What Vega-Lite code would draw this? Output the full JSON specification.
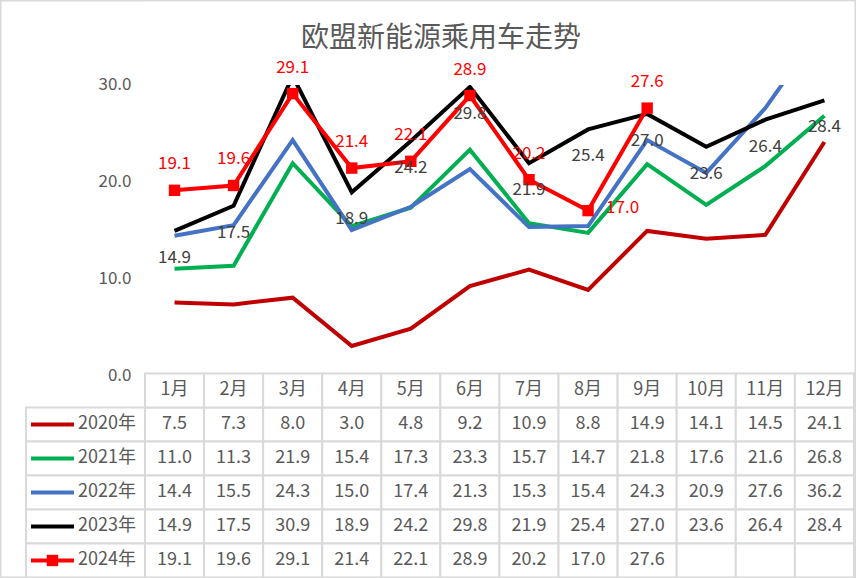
{
  "$schema": "https://vega.github.io/schema/vega-lite/v6.json",
  "width": 856,
  "height": 578,
  "autosize": "none",
  "padding": 0,
  "background": "white",
  "config": {
    "view": {"stroke": "#D9D9D9", "strokeWidth": 3},
    "font": "Noto Sans CJK SC",
    "text": {"font": "Noto Sans CJK SC"}
  },
  "title": {
    "text": "欧盟新能源乘用车走势",
    "anchor": "middle",
    "frame": "group",
    "offset": -53,
    "dx": 13,
    "fontSize": 28,
    "font": "Noto Sans CJK SC",
    "fontWeight": "normal",
    "color": "#595959"
  },
  "datasets": {
    "d": [
      {"y": "2020年", "r": 1, "m": 1, "v": 7.5}, {"y": "2020年", "r": 1, "m": 2, "v": 7.3}, {"y": "2020年", "r": 1, "m": 3, "v": 8.0}, {"y": "2020年", "r": 1, "m": 4, "v": 3.0}, {"y": "2020年", "r": 1, "m": 5, "v": 4.8}, {"y": "2020年", "r": 1, "m": 6, "v": 9.2}, {"y": "2020年", "r": 1, "m": 7, "v": 10.9}, {"y": "2020年", "r": 1, "m": 8, "v": 8.8}, {"y": "2020年", "r": 1, "m": 9, "v": 14.9}, {"y": "2020年", "r": 1, "m": 10, "v": 14.1}, {"y": "2020年", "r": 1, "m": 11, "v": 14.5}, {"y": "2020年", "r": 1, "m": 12, "v": 24.1},
      {"y": "2021年", "r": 2, "m": 1, "v": 11.0}, {"y": "2021年", "r": 2, "m": 2, "v": 11.3}, {"y": "2021年", "r": 2, "m": 3, "v": 21.9}, {"y": "2021年", "r": 2, "m": 4, "v": 15.4}, {"y": "2021年", "r": 2, "m": 5, "v": 17.3}, {"y": "2021年", "r": 2, "m": 6, "v": 23.3}, {"y": "2021年", "r": 2, "m": 7, "v": 15.7}, {"y": "2021年", "r": 2, "m": 8, "v": 14.7}, {"y": "2021年", "r": 2, "m": 9, "v": 21.8}, {"y": "2021年", "r": 2, "m": 10, "v": 17.6}, {"y": "2021年", "r": 2, "m": 11, "v": 21.6}, {"y": "2021年", "r": 2, "m": 12, "v": 26.8},
      {"y": "2022年", "r": 3, "m": 1, "v": 14.4}, {"y": "2022年", "r": 3, "m": 2, "v": 15.5}, {"y": "2022年", "r": 3, "m": 3, "v": 24.3}, {"y": "2022年", "r": 3, "m": 4, "v": 15.0}, {"y": "2022年", "r": 3, "m": 5, "v": 17.4}, {"y": "2022年", "r": 3, "m": 6, "v": 21.3}, {"y": "2022年", "r": 3, "m": 7, "v": 15.3}, {"y": "2022年", "r": 3, "m": 8, "v": 15.4}, {"y": "2022年", "r": 3, "m": 9, "v": 24.3}, {"y": "2022年", "r": 3, "m": 10, "v": 20.9}, {"y": "2022年", "r": 3, "m": 11, "v": 27.6}, {"y": "2022年", "r": 3, "m": 12, "v": 36.2},
      {"y": "2023年", "r": 4, "m": 1, "v": 14.9}, {"y": "2023年", "r": 4, "m": 2, "v": 17.5}, {"y": "2023年", "r": 4, "m": 3, "v": 30.9}, {"y": "2023年", "r": 4, "m": 4, "v": 18.9}, {"y": "2023年", "r": 4, "m": 5, "v": 24.2}, {"y": "2023年", "r": 4, "m": 6, "v": 29.8}, {"y": "2023年", "r": 4, "m": 7, "v": 21.9}, {"y": "2023年", "r": 4, "m": 8, "v": 25.4}, {"y": "2023年", "r": 4, "m": 9, "v": 27.0}, {"y": "2023年", "r": 4, "m": 10, "v": 23.6}, {"y": "2023年", "r": 4, "m": 11, "v": 26.4}, {"y": "2023年", "r": 4, "m": 12, "v": 28.4},
      {"y": "2024年", "r": 5, "m": 1, "v": 19.1}, {"y": "2024年", "r": 5, "m": 2, "v": 19.6}, {"y": "2024年", "r": 5, "m": 3, "v": 29.1}, {"y": "2024年", "r": 5, "m": 4, "v": 21.4}, {"y": "2024年", "r": 5, "m": 5, "v": 22.1}, {"y": "2024年", "r": 5, "m": 6, "v": 28.9}, {"y": "2024年", "r": 5, "m": 7, "v": 20.2}, {"y": "2024年", "r": 5, "m": 8, "v": 17.0}, {"y": "2024年", "r": 5, "m": 9, "v": 27.6}, {"y": "2024年", "r": 5, "m": 10, "v": null}, {"y": "2024年", "r": 5, "m": 11, "v": null}, {"y": "2024年", "r": 5, "m": 12, "v": null}
    ],
    "mon": [
      {"m": 1, "t": "1月"}, {"m": 2, "t": "2月"}, {"m": 3, "t": "3月"}, {"m": 4, "t": "4月"}, {"m": 5, "t": "5月"}, {"m": 6, "t": "6月"},
      {"m": 7, "t": "7月"}, {"m": 8, "t": "8月"}, {"m": 9, "t": "9月"}, {"m": 10, "t": "10月"}, {"m": 11, "t": "11月"}, {"m": 12, "t": "12月"}
    ],
    "yrs": [
      {"y": "2020年", "r": 1}, {"y": "2021年", "r": 2}, {"y": "2022年", "r": 3}, {"y": "2023年", "r": 4}, {"y": "2024年", "r": 5}
    ]
  },
  "resolve": {"scale": {"y": "independent"}},
  "layer": [
    {
      "data": {"name": "d"},
      "mark": {"type": "rect", "width": 59.08, "height": 34, "fill": "white", "stroke": "#D9D9D9", "strokeWidth": 2},
      "encoding": {
        "x": {"field": "m", "type": "quantitative", "scale": {"domain": [-1.954, 12.535], "nice": false, "zero": false}, "axis": null},
        "y": {"field": "r", "type": "quantitative", "scale": {"domain": [-11.485, 5.515], "reverse": true, "nice": false, "zero": false}, "axis": null}
      }
    },
    {
      "data": {"name": "mon"},
      "mark": {"type": "rect", "width": 59.08, "height": 34, "fill": "white", "stroke": "#D9D9D9", "strokeWidth": 2},
      "encoding": {
        "x": {"field": "m", "type": "quantitative", "scale": {"domain": [-1.954, 12.535], "nice": false, "zero": false}, "axis": null},
        "y": {"datum": 0, "type": "quantitative", "scale": {"domain": [-11.485, 5.515], "reverse": true, "nice": false, "zero": false}, "axis": null}
      }
    },
    {
      "data": {"name": "yrs"},
      "mark": {"type": "rect", "width": 119, "height": 34, "fill": "white", "stroke": "#D9D9D9", "strokeWidth": 2},
      "encoding": {
        "x": {"datum": -0.507, "type": "quantitative", "scale": {"domain": [-1.954, 12.535], "nice": false, "zero": false}, "axis": null},
        "y": {"field": "r", "type": "quantitative", "scale": {"domain": [-11.485, 5.515], "reverse": true, "nice": false, "zero": false}, "axis": null}
      }
    },
    {
      "data": {"name": "d"},
      "transform": [{"filter": "datum.v != null"}],
      "mark": {"type": "line", "strokeWidth": 4, "strokeJoin": "miter"},
      "encoding": {
        "x": {"field": "m", "type": "quantitative", "scale": {"domain": [-1.954, 12.535], "nice": false, "zero": false}, "axis": null},
        "y": {"field": "v", "type": "quantitative", "scale": {"domain": [-20.99, 38.78], "nice": false, "zero": false},
          "axis": {"values": [0, 10, 20, 30], "format": ".1f", "offset": -133, "domain": false, "ticks": false, "grid": false, "labelPadding": 2, "labelFont": "Noto Sans CJK SC", "labelFontSize": 17, "labelColor": "#595959", "labelFontWeight": "normal", "title": null}},
        "color": {"field": "y", "type": "nominal", "scale": {"domain": ["2020年", "2021年", "2022年", "2023年", "2024年"], "range": ["#C00000", "#00B050", "#4472C4", "#000000", "#FF0000"]}, "legend": null}
      }
    },
    {
      "data": {"values": [{}]},
      "mark": {"type": "rect", "fill": "white"},
      "encoding": {
        "x": {"datum": 0.5, "type": "quantitative", "scale": {"domain": [-1.954, 12.535], "nice": false, "zero": false}, "axis": null},
        "x2": {"datum": 12.5},
        "y": {"datum": 30, "type": "quantitative", "scale": {"domain": [-20.99, 38.78], "nice": false, "zero": false}, "axis": null},
        "y2": {"datum": 38.6}
      }
    },
    {
      "data": {"name": "d"},
      "transform": [{"filter": "datum.y == '2024年' && datum.v != null"}],
      "mark": {"type": "point", "shape": "square", "filled": true, "size": 130, "color": "#FF0000", "opacity": 1},
      "encoding": {
        "x": {"field": "m", "type": "quantitative", "scale": {"domain": [-1.954, 12.535], "nice": false, "zero": false}, "axis": null},
        "y": {"field": "v", "type": "quantitative", "scale": {"domain": [-20.99, 38.78], "nice": false, "zero": false}, "axis": null}
      }
    },
    {
      "data": {"name": "d"},
      "transform": [{"filter": "datum.y == '2023年' && datum.m != 3"}],
      "mark": {"type": "text", "dy": 27, "fontSize": 17, "color": "#404040", "baseline": "middle"},
      "encoding": {
        "x": {"field": "m", "type": "quantitative", "scale": {"domain": [-1.954, 12.535], "nice": false, "zero": false}, "axis": null},
        "y": {"field": "v", "type": "quantitative", "scale": {"domain": [-20.99, 38.78], "nice": false, "zero": false}, "axis": null},
        "text": {"field": "v", "type": "quantitative", "format": ".1f"}
      }
    },
    {
      "data": {"name": "d"},
      "transform": [{"filter": "datum.y == '2024年' && datum.v != null && datum.m != 8"}],
      "mark": {"type": "text", "dy": -26, "fontSize": 17, "color": "#FF0000", "baseline": "middle"},
      "encoding": {
        "x": {"field": "m", "type": "quantitative", "scale": {"domain": [-1.954, 12.535], "nice": false, "zero": false}, "axis": null},
        "y": {"field": "v", "type": "quantitative", "scale": {"domain": [-20.99, 38.78], "nice": false, "zero": false}, "axis": null},
        "text": {"field": "v", "type": "quantitative", "format": ".1f"}
      }
    },
    {
      "data": {"name": "d"},
      "transform": [{"filter": "datum.y == '2024年' && datum.m == 8"}],
      "mark": {"type": "text", "dx": 18, "dy": -3, "align": "left", "fontSize": 17, "color": "#FF0000", "baseline": "middle"},
      "encoding": {
        "x": {"field": "m", "type": "quantitative", "scale": {"domain": [-1.954, 12.535], "nice": false, "zero": false}, "axis": null},
        "y": {"field": "v", "type": "quantitative", "scale": {"domain": [-20.99, 38.78], "nice": false, "zero": false}, "axis": null},
        "text": {"field": "v", "type": "quantitative", "format": ".1f"}
      }
    },
    {
      "data": {"name": "d"},
      "transform": [{"filter": "datum.v != null"}],
      "mark": {"type": "text", "fontSize": 18, "color": "#595959", "baseline": "middle"},
      "encoding": {
        "x": {"field": "m", "type": "quantitative", "scale": {"domain": [-1.954, 12.535], "nice": false, "zero": false}, "axis": null},
        "y": {"field": "r", "type": "quantitative", "scale": {"domain": [-11.485, 5.515], "reverse": true, "nice": false, "zero": false}, "axis": null},
        "text": {"field": "v", "type": "quantitative", "format": ".1f"}
      }
    },
    {
      "data": {"name": "mon"},
      "mark": {"type": "text", "fontSize": 18, "color": "#595959", "baseline": "middle"},
      "encoding": {
        "x": {"field": "m", "type": "quantitative", "scale": {"domain": [-1.954, 12.535], "nice": false, "zero": false}, "axis": null},
        "y": {"datum": 0, "type": "quantitative", "scale": {"domain": [-11.485, 5.515], "reverse": true, "nice": false, "zero": false}, "axis": null},
        "text": {"field": "t", "type": "nominal"}
      }
    },
    {
      "data": {"name": "yrs"},
      "mark": {"type": "point", "shape": "stroke", "size": 1849, "strokeWidth": 4, "filled": false, "opacity": 1},
      "encoding": {
        "x": {"datum": -1.066, "type": "quantitative", "scale": {"domain": [-1.954, 12.535], "nice": false, "zero": false}, "axis": null},
        "y": {"field": "r", "type": "quantitative", "scale": {"domain": [-11.485, 5.515], "reverse": true, "nice": false, "zero": false}, "axis": null},
        "color": {"field": "y", "type": "nominal", "scale": {"domain": ["2020年", "2021年", "2022年", "2023年", "2024年"], "range": ["#C00000", "#00B050", "#4472C4", "#000000", "#FF0000"]}, "legend": null}
      }
    },
    {
      "data": {"name": "yrs"},
      "transform": [{"filter": "datum.y == '2024年'"}],
      "mark": {"type": "point", "shape": "square", "filled": true, "size": 130, "color": "#FF0000", "opacity": 1},
      "encoding": {
        "x": {"datum": -1.066, "type": "quantitative", "scale": {"domain": [-1.954, 12.535], "nice": false, "zero": false}, "axis": null},
        "y": {"field": "r", "type": "quantitative", "scale": {"domain": [-11.485, 5.515], "reverse": true, "nice": false, "zero": false}, "axis": null}
      }
    },
    {
      "data": {"name": "yrs"},
      "mark": {"type": "text", "fontSize": 18, "color": "#595959", "baseline": "middle", "align": "left"},
      "encoding": {
        "x": {"datum": -0.634, "type": "quantitative", "scale": {"domain": [-1.954, 12.535], "nice": false, "zero": false}, "axis": null},
        "y": {"field": "r", "type": "quantitative", "scale": {"domain": [-11.485, 5.515], "reverse": true, "nice": false, "zero": false}, "axis": null},
        "text": {"field": "y", "type": "nominal"}
      }
    }
  ]
}
